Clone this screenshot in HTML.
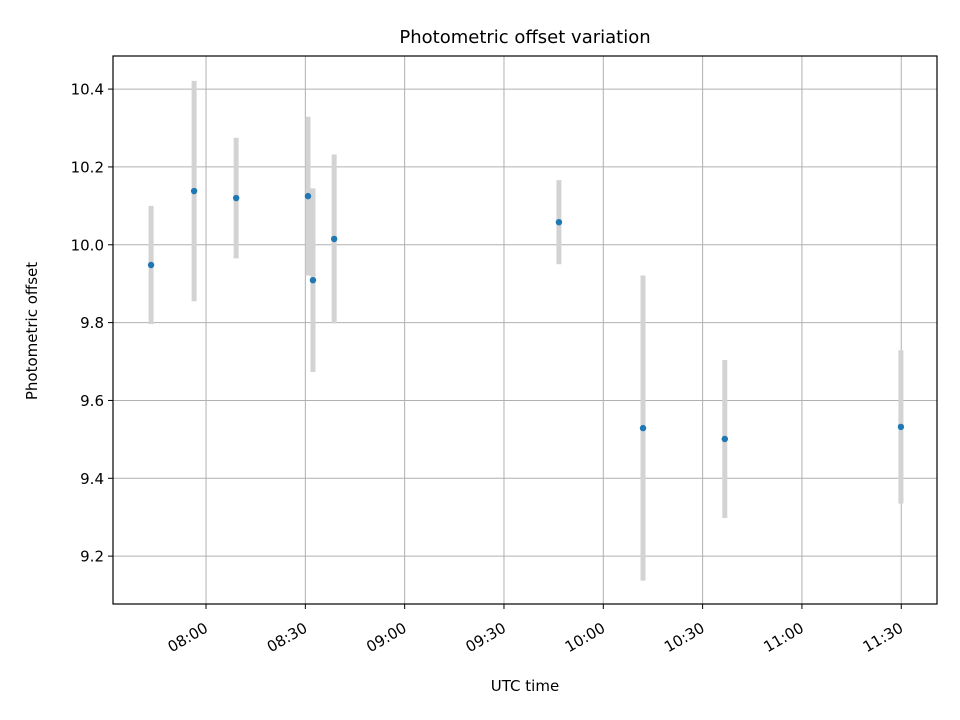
<!DOCTYPE html>
<html><head><meta charset="utf-8"><style>
body{margin:0;background:#fff;}
svg{display:block;font-family:"DejaVu Sans","Liberation Sans",sans-serif;}
</style></head><body>
<svg id="chart" width="960" height="720"></svg>
<script>
// minutes after 08:00 UTC
const times = [-16.6, -3.6, 9.1, 30.8, 32.3, 38.7, 106.6, 132.0, 156.7, 209.9];
const offsets = [9.948, 10.138, 10.120, 10.125, 9.909, 10.015, 10.058, 9.529, 9.501, 9.532];
const errors = [0.152, 0.283, 0.155, 0.204, 0.236, 0.217, 0.108, 0.392, 0.203, 0.197];
const yTicks = [9.2, 9.4, 9.6, 9.8, 10.0, 10.2, 10.4];
const xTicks = [0, 30, 60, 90, 120, 150, 180, 210];
const xTickLabels = ["08:00","08:30","09:00","09:30","10:00","10:30","11:00","11:30"];

const L=113,R=937,T=56,B=604;
const xMin=-28.1,xMax=220.8,yMin=9.077,yMax=10.485;
const X=v=>L+(v-xMin)/(xMax-xMin)*(R-L);
const Y=v=>B-(v-yMin)/(yMax-yMin)*(B-T);
const svg=document.getElementById('chart');
const NS='http://www.w3.org/2000/svg';
function mk(tag,attrs,parent){const e=document.createElementNS(NS,tag);for(const k in attrs)e.setAttribute(k,attrs[k]);(parent||svg).appendChild(e);return e;}

const grid=mk('g',{});


yTicks.forEach((t,i)=>{
  const y=Y(t);
  const gl=mk('line',{x1:L,x2:R,y1:y,y2:y,stroke:'#b0b0b0','stroke-width':1},grid);
  
  
  mk('line',{x1:L-5,x2:L,y1:y,y2:y,stroke:'#000','stroke-width':1});
  const tx=mk('text',{x:L-9,y:y+5.5,'text-anchor':'end','font-size':15});
  tx.textContent=t.toFixed(1);
  
  
});
xTicks.forEach((t,i)=>{
  const x=X(t);
  const gl=mk('line',{x1:x,x2:x,y1:T,y2:B,stroke:'#b0b0b0','stroke-width':1},grid);
  
  
  mk('line',{x1:x,x2:x,y1:B,y2:B+5,stroke:'#000','stroke-width':1});
  const ax=x+3, ay=B+27;
  const tx=mk('text',{x:ax,y:ay,'text-anchor':'end','font-size':15,transform:`rotate(-30 ${ax} ${ay})`});
  tx.textContent=xTickLabels[i];
  
  
});
const eb=mk('g',{});


times.forEach((t,i)=>{
  const l=mk('line',{x1:X(t),x2:X(t),y1:Y(offsets[i]+errors[i]),y2:Y(offsets[i]-errors[i]),stroke:'#d3d3d3','stroke-width':5},eb);
  
  
});
times.forEach((t,i)=>{
  const c=mk('circle',{cx:X(t),cy:Y(offsets[i]),r:3.2,fill:'#1f77b4'});
  
  
});
const frame=mk('rect',{x:L,y:T,width:R-L,height:B-T,fill:'none',stroke:'#000','stroke-width':1.2});


const title=mk('text',{x:(L+R)/2,y:43,'text-anchor':'middle','font-size':18});
title.textContent='Photometric offset variation';


const xl=mk('text',{x:(L+R)/2,y:691,'text-anchor':'middle','font-size':15});
xl.textContent='UTC time';


const yl=mk('text',{x:37,y:(T+B)/2+1,'text-anchor':'middle','font-size':15,transform:`rotate(-90 37 ${(T+B)/2+1})`});
yl.textContent='Photometric offset';


</script>
</body></html>
